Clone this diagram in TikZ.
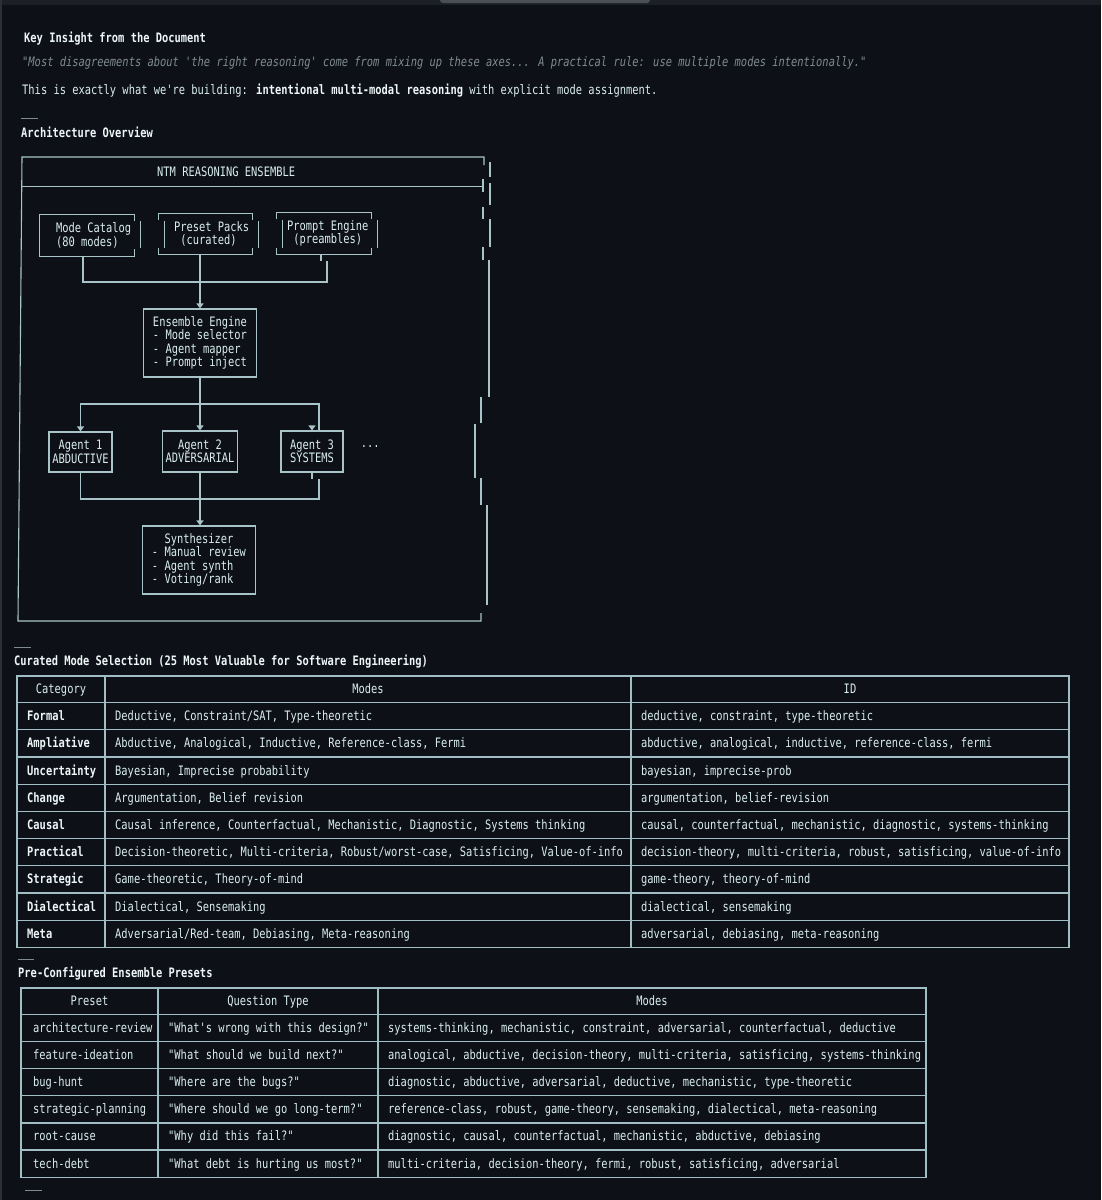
\documentclass[tikz,border=0pt]{standalone}
\usepackage{fontspec}
\newfontfamily\codefont[FakeStretch=0.801]{DejaVu Sans Mono}
\newcommand\mono{\codefont\fontsize{13}{13.5}\selectfont}
\usetikzlibrary{arrows.meta,calc}
\definecolor{bg}{RGB}{13,17,23}
\definecolor{ink}{RGB}{218,238,240}
\definecolor{hi}{RGB}{238,247,248}
\definecolor{dim}{RGB}{128,138,145}
\definecolor{lineclr}{RGB}{168,196,200}
\definecolor{tblclr}{RGB}{160,190,195}
\definecolor{topbar}{RGB}{28,32,38}
\definecolor{thumb}{RGB}{74,79,87}
\definecolor{frame}{RGB}{44,48,54}
\tikzset{
  wire/.style={draw=lineclr, line width=1.1pt},
  arr/.style={wire, -{Triangle[width=7pt,length=5pt]}},
  blk/.style={draw=lineclr, line width=1.1pt, inner sep=0pt, font=\mono, text=ink},
  lbl/.style={anchor=base west, inner sep=0pt, font=\mono, text=ink},
  head/.style={lbl, font=\mono\bfseries, text=hi},
  tbl/.style={draw=tblclr, line width=1.2pt},
  rule/.style={draw=dim, line width=1pt},
}
\begin{document}
\begin{tikzpicture}[x=1pt,y=-1pt]
\useasboundingbox (0,0) rectangle (1101,1200);
\fill[bg] (0,0) rectangle (1101,1200);
\fill[topbar] (0,0) rectangle (1101,5);
\fill[thumb, rounded corners=3pt] (440,-4) rectangle (650,3);
\draw[frame, line width=1.5pt] (0.75,0) -- (0.75,1200);

% intro text
\node[head] (kih) at (24,42.5) {Key Insight from the Document};
\node[lbl, font=\mono\itshape, text=dim] (quo) at (22,66.5) {"Most disagreements about 'the right reasoning' come from mixing up these axes... A practical rule: use multiple modes intentionally."};
\node[lbl] (intro) at (22,94.5) {This is exactly what we're building: {\bfseries\color{hi}intentional multi-modal reasoning} with explicit mode assignment.};
\draw[rule] (21,118) -- (38,118);
\node[head] (arch) at (21,137.5) {Architecture Overview};

% outer frame
\draw[wire] (484,165) -- (484,157) -- (22,157) -- (18,621) -- (481,621) -- (481,613);
\draw[wire] (22,186.5) -- (483,186.5);
\draw[wire] (483,179) -- (483,192);
\foreach \x/\ya/\yb in {490/162/177, 490/183/205, 483/207/219, 490/219/247, 483/247/260,
    489/260/397, 481/397/423, 475/424/478, 481/478/505, 487/505/605}
  \draw[wire] (\x,\ya) -- (\x,\yb);
\node[lbl] (ttl) at (157,176.5) {NTM REASONING ENSEMBLE};

% source boxes
\node[minimum width=94pt, minimum height=41pt, inner sep=0pt] (catbox) at (87,235.5) {};
\node[minimum width=93pt, minimum height=40pt, inner sep=0pt] (prebox) at (205.5,234) {};
\node[minimum width=94pt, minimum height=41pt, inner sep=0pt] (prmbox) at (324,233.5) {};
\node[lbl, anchor=west, align=left] (catT) at ([xshift=16pt]catbox.west) {Mode Catalog\\(80 modes)};
\node[lbl, anchor=west, align=left] (preT) at ([xshift=15pt]prebox.west) {Preset Packs\\\hphantom{x}(curated)};
\node[lbl, anchor=west, align=left] (prmT) at ([xshift=10pt]prmbox.west) {Prompt Engine\\\hphantom{x}(preambles)};

\draw[wire] ($(catbox.north east)+(0,6)$) -- (catbox.north east) -- (catbox.north west)
  -- (catbox.south west) -- (catbox.south east) -- ++(0,-7);
\draw[wire] ($(catbox.north east)+(6,6)$) -- ($(catbox.south east)+(6,-8)$);
\foreach \b in {prebox,prmbox}{
  \draw[wire] ($(\b.north west)+(0,6)$) -- (\b.north west) -- (\b.north east) -- ++(0,6);
  \draw[wire] ($(\b.south west)+(0,-6)$) -- (\b.south west) -- (\b.south east) -- ++(0,-6);
  \draw[wire] ($(\b.north west)+(6,7)$) -- ($(\b.south west)+(6,-6)$);
  \draw[wire] ($(\b.north east)+(6,7)$) -- ($(\b.south east)+(6,-6)$);
}

% engine, agents, synthesizer
\node[blk, minimum width=113pt, minimum height=68pt, align=left] (ens) at (200,343)
  {Ensemble Engine\\- Mode selector\\- Agent mapper\\- Prompt inject};
\node[blk, minimum width=63pt, minimum height=40pt, align=center] (ag1) at (80.5,452) {Agent 1\\ABDUCTIVE};
\node[blk, minimum width=75pt, minimum height=41pt, align=center] (ag2) at (200,451.5) {Agent 2\\ADVERSARIAL};
\node[blk, minimum width=62pt, minimum height=41pt, align=center] (ag3) at (312,451.5) {Agent 3\\SYSTEMS};
\node[lbl] (more) at ($(ag3.east)+(17,-4)$) {...};
\node[blk, minimum width=113pt, minimum height=68pt, align=left] (syn) at (199,560)
  {\hphantom{xx}Synthesizer\\- Manual review\\- Agent synth\\- Voting/rank};

\coordinate (bus1) at (327,282);
\coordinate (fan) at (200,404);
\coordinate (bus2) at (319,499);
\draw[wire] ([xshift=-4pt]catbox.south) |- (bus1) -- ++(0,-21);
\draw[wire] ([xshift=-3pt]prmbox.south) -- ++(0,7);
\draw[arr] (ens.north |- prebox.south) -- (ens.north);
\draw[arr] (ens.south) -- (ag2.north);
\draw[arr] (fan) -| (ag1.north);
\draw[wire] (fan) -| ([xshift=7pt]ag3.north);
\draw[arr] ([yshift=3pt]ag3.north) -- (ag3.north);
\draw[wire] (ag1.south) |- (bus2) -- ++(0,-20);
\draw[wire] (ag3.south) -- ++(0,6);
\draw[arr] (ag2.south) -- (ag2.south |- syn.north);

% mode table
\draw[rule] (14,647) -- (31,647);
\node[head] (cur) at (14,665.5) {Curated Mode Selection (25 Most Valuable for Software Engineering)};
\draw[tbl] (17,676) rectangle (1069,947.3);
\foreach \r in {0,...,8} \draw[tbl] (17,702.5+27.2*\r) -- (1069,702.5+27.2*\r);
\draw[tbl] (105,676) -- (105,947.3) (631,676) -- (631,947.3);
\node[lbl, anchor=base] (hcat) at (61,693.7) {Category};
\node[lbl, anchor=base] (hmod) at (368,693.7) {Modes};
\node[lbl, anchor=base] (hid) at (850,693.7) {ID};
\foreach \kind/\mlist/\ilist [count=\i from 0] in {
  Formal/{Deductive, Constraint/SAT, Type-theoretic}/{deductive, constraint, type-theoretic},
  Ampliative/{Abductive, Analogical, Inductive, Reference-class, Fermi}/{abductive, analogical, inductive, reference-class, fermi},
  Uncertainty/{Bayesian, Imprecise probability}/{bayesian, imprecise-prob},
  Change/{Argumentation, Belief revision}/{argumentation, belief-revision},
  Causal/{Causal inference, Counterfactual, Mechanistic, Diagnostic, Systems thinking}/{causal, counterfactual, mechanistic, diagnostic, systems-thinking},
  Practical/{Decision-theoretic, Multi-criteria, Robust/worst-case, Satisficing, Value-of-info}/{decision-theory, multi-criteria, robust, satisficing, value-of-info},
  Strategic/{Game-theoretic, Theory-of-mind}/{game-theory, theory-of-mind},
  Dialectical/{Dialectical, Sensemaking}/{dialectical, sensemaking},
  Meta/{Adversarial/Red-team, Debiasing, Meta-reasoning}/{adversarial, debiasing, meta-reasoning}}{
  \node[head] (k\i) at (27,720.6+27.2*\i) {\kind};
  \node[lbl] (m\i) at (115,720.6+27.2*\i) {\mlist};
  \node[lbl] (d\i) at (641,720.6+27.2*\i) {\ilist};
}

% preset table
\draw[rule] (18,959) -- (34,959);
\node[head] (pcf) at (18,977.5) {Pre-Configured Ensemble Presets};
\draw[tbl] (21,988) rectangle (926,1177.1);
\foreach \r in {0,...,5} \draw[tbl] (21,1014.5+27.1*\r) -- (926,1014.5+27.1*\r);
\draw[tbl] (158,988) -- (158,1177.1) (378,988) -- (378,1177.1);
\node[lbl, anchor=base] (hpre) at (89.5,1005.7) {Preset};
\node[lbl, anchor=base] (hqt) at (268,1005.7) {Question Type};
\node[lbl, anchor=base] (hpm) at (652,1005.7) {Modes};
\foreach \pname/\quest/\plist [count=\i from 0] in {
  architecture-review/"What's wrong with this design?"/{systems-thinking, mechanistic, constraint, adversarial, counterfactual, deductive},
  feature-ideation/"What should we build next?"/{analogical, abductive, decision-theory, multi-criteria, satisficing, systems-thinking},
  bug-hunt/"Where are the bugs?"/{diagnostic, abductive, adversarial, deductive, mechanistic, type-theoretic},
  strategic-planning/"Where should we go long-term?"/{reference-class, robust, game-theory, sensemaking, dialectical, meta-reasoning},
  root-cause/"Why did this fail?"/{diagnostic, causal, counterfactual, mechanistic, abductive, debiasing},
  tech-debt/"What debt is hurting us most?"/{multi-criteria, decision-theory, fermi, robust, satisficing, adversarial}}{
  \node[lbl] (p\i) at (33,1032.5+27.1*\i) {\pname};
  \node[lbl] (q\i) at (168,1032.5+27.1*\i) {\quest};
  \node[lbl] (s\i) at (388,1032.5+27.1*\i) {\plist};
}
\draw[rule] (25,1190) -- (42,1190);
\end{tikzpicture}
\end{document}
